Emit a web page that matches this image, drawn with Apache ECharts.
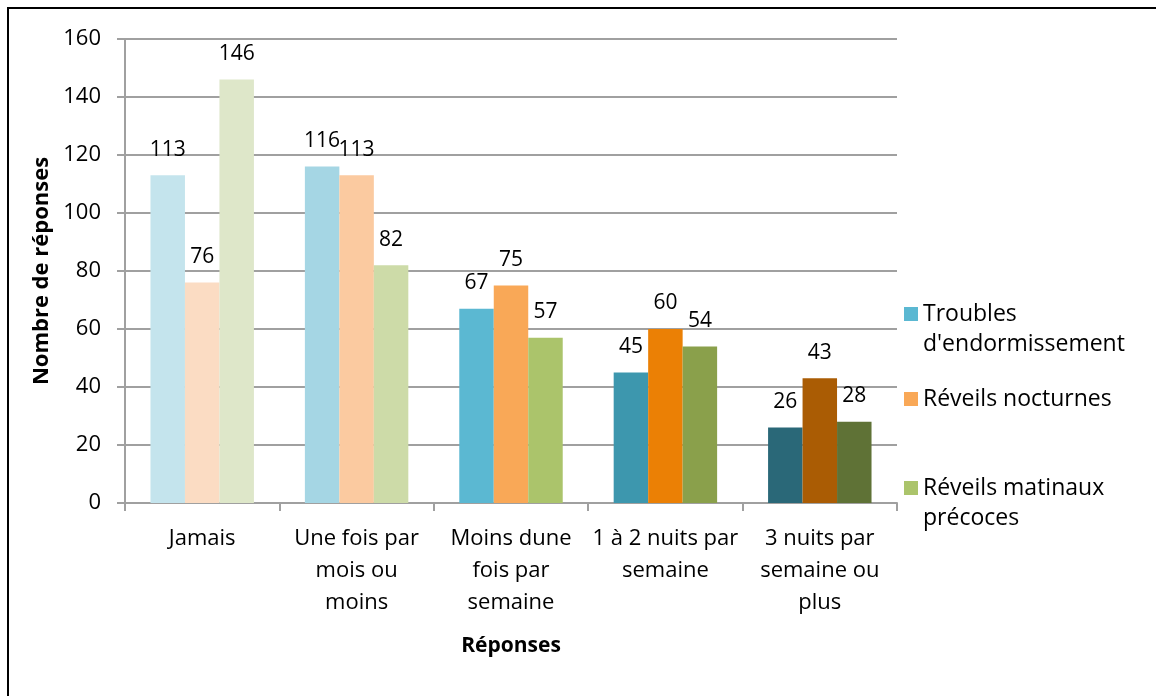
<!DOCTYPE html>
<html>
<head>
<meta charset="utf-8">
<script src="https://cdn.jsdelivr.net/npm/echarts@6/dist/echarts.min.js"></script>
<style>
    html,body{margin:0;padding:0;background:#fff;}
    #main{width:1156px;height:696px;}
</style>
</head>
<body>
<div id="main"></div>
<script>
// catégories (axe des x)
var categories = ['Jamais', 'Une fois par\nmois ou\nmoins', 'Moins dune\nfois par\nsemaine', '1 à 2 nuits par\nsemaine', '3 nuits par\nsemaine ou\nplus'];
var seriesNames = ['Troubles d\'endormissement', 'Réveils nocturnes', 'Réveils matinaux précoces'];
var troubles = [113, 116, 67, 45, 26];
var nocturnes = [76, 113, 75, 60, 43];
var matinaux = [146, 82, 57, 54, 28];
var yTicks = [0, 20, 40, 60, 80, 100, 120, 140, 160];

// couleurs : une nuance par catégorie
var troublesColors = ['#c4e4ed', '#a5d6e4', '#5bb8d2', '#3d97ae', '#2a6878'];
var nocturnesColors = ['#fbdcc3', '#fbcaa0', '#f9a857', '#eb8005', '#aa5c04'];
var matinauxColors = ['#dee7c9', '#cddba8', '#abc46b', '#8aa04b', '#5f7236'];
var baseColors = ['#5bb8d2', '#f9a857', '#abc46b'];

var legendText = {
    'Troubles d\'endormissement': '\nTroubles\nd\'endormissement',
    'Réveils nocturnes': 'Réveils nocturnes',
    'Réveils matinaux précoces': '\nRéveils matinaux\nprécoces'
};

var font = 'Open Sans';

function buildData(values, colors) {
    var res = [];
    for (var i = 0; i < values.length; i++) {
        res.push({value: values[i], itemStyle: {color: colors[i]}});
    }
    return res;
}

function makeSeries(name, values, colors, base) {
    return {
        name: name,
        type: 'bar',
        barGap: '0%',
        barCategoryGap: '33%',
        itemStyle: {color: base},
        label: {
            show: true,
            position: 'top',
            distance: 15,
            color: '#000',
            fontFamily: font,
            fontSize: 21
        },
        data: buildData(values, colors)
    };
}

function makeLegend(name, top) {
    return {
        data: [name],
        orient: 'vertical',
        left: 899,
        top: top,
        itemWidth: 14,
        itemHeight: 14,
        icon: 'rect',
        selectedMode: false,
        formatter: function (n) { return legendText[n]; },
        textStyle: {
            color: '#000',
            fontFamily: font,
            fontSize: 23,
            lineHeight: 30
        }
    };
}

var myChart = echarts.init(document.getElementById('main'));
var option = {
    backgroundColor: '#fff',
    animation: false,
    graphic: [{
        type: 'rect',
        shape: {x: 8, y: 8, width: 1300, height: 900},
        style: {fill: 'none', stroke: '#000', lineWidth: 2},
        silent: true
    }],
    legend: [
        makeLegend(seriesNames[0], 264),
        makeLegend(seriesNames[1], 379),
        makeLegend(seriesNames[2], 438)
    ],
    grid: {
        left: 125,
        right: 259,
        top: 39,
        bottom: 193,
        containLabel: false
    },
    xAxis: {
        type: 'category',
        data: categories,
        name: 'Réponses',
        nameLocation: 'middle',
        nameGap: 133,
        nameTextStyle: {
            color: '#000',
            fontFamily: font,
            fontSize: 21,
            fontWeight: 'bold'
        },
        axisLine: {show: true, lineStyle: {color: '#a0a0a0', width: 2}},
        axisTick: {show: true, length: 8, lineStyle: {color: '#a0a0a0', width: 2}},
        axisLabel: {
            interval: 0,
            color: '#000',
            fontFamily: font,
            fontSize: 22,
            lineHeight: 32,
            margin: 20
        }
    },
    yAxis: {
        type: 'value',
        min: yTicks[0],
        max: yTicks[yTicks.length - 1],
        interval: 20,
        name: 'Nombre de réponses',
        nameLocation: 'middle',
        nameGap: 72,
        nameTextStyle: {
            color: '#000',
            fontFamily: font,
            fontSize: 22,
            fontWeight: 'bold'
        },
        axisLine: {show: true, lineStyle: {color: '#a0a0a0', width: 2}},
        axisTick: {show: true, length: 8, lineStyle: {color: '#a0a0a0', width: 2}},
        axisLabel: {
            color: '#000',
            fontFamily: font,
            fontSize: 22,
            margin: 24
        },
        splitLine: {lineStyle: {color: '#a0a0a0', width: 2}}
    },
    series: [
        makeSeries(seriesNames[0], troubles, troublesColors, baseColors[0]),
        makeSeries(seriesNames[1], nocturnes, nocturnesColors, baseColors[1]),
        makeSeries(seriesNames[2], matinaux, matinauxColors, baseColors[2])
    ]
};
myChart.setOption(option);

window.addEventListener('resize', function () {
    myChart.resize();
});
</script>
</body>
</html>
